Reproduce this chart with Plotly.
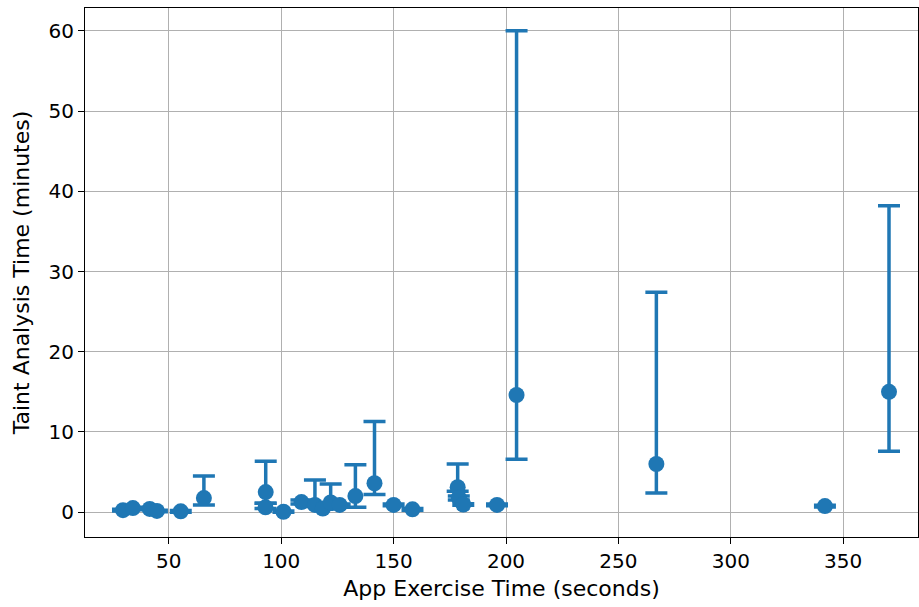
import plotly.graph_objects as go

exercise_time = [29.6, 34, 41.5, 44.7, 55.3, 65.6, 93.1, 93.0, 101, 109, 115, 118.5, 122, 126,
                 133, 141.5, 150, 158.4, 178.5, 179, 181, 196, 204.7, 266.9, 341.9, 370.4]
taint_mean = [0.25, 0.5, 0.4, 0.15, 0.1, 1.75, 2.5, 0.6, 0.05, 1.25, 0.9, 0.45, 1.2, 0.9,
              2.0, 3.6, 0.9, 0.35, 3.1, 1.8, 0.95, 0.9, 14.6, 6.0, 0.75, 15.0]
taint_max = [0.35, 0.6, 0.5, 0.25, 0.2, 4.5, 6.35, 1.1, 0.15, 1.5, 4.0, 0.6, 3.5, 1.0,
             5.9, 11.3, 1.0, 0.45, 6.0, 2.0, 1.05, 1.0, 60, 27.4, 0.85, 38.2]
taint_min = [0.15, 0.4, 0.3, 0.05, 0.0, 0.9, 1.1, 0.45, 0.0, 1.0, 0.7, 0.35, 0.9, 0.8,
             0.6, 2.2, 0.8, 0.25, 2.6, 1.5, 0.85, 0.8, 6.6, 2.4, 0.65, 7.6]

x_ticks = [50, 100, 150, 200, 250, 300, 350]
y_ticks = [0, 10, 20, 30, 40, 50, 60]

color = "#1f77b4"
fig = go.Figure(go.Scatter(
    x=exercise_time, y=taint_mean, mode="markers",
    marker=dict(color=color, size=16, line=dict(width=0)),
    error_y=dict(type="data", symmetric=False,
                 array=[h - m for h, m in zip(taint_max, taint_mean)],
                 arrayminus=[m - l for m, l in zip(taint_mean, taint_min)],
                 color=color, thickness=3.5, width=11),
))

tick_font = dict(family="DejaVu Sans", size=20, color="black")
title_font = dict(family="DejaVu Sans", size=22, color="black")
axis_common = dict(showline=True, linecolor="black", linewidth=1.2, mirror=True,
                   ticks="outside", ticklen=6, tickwidth=1.2, tickcolor="black",
                   showgrid=True, gridcolor="#b0b0b0", gridwidth=1, zeroline=False,
                   tickfont=tick_font)
fig.update_xaxes(range=[12.7, 383.3], tickvals=x_ticks,
                 title=dict(text="App Exercise Time (seconds)", font=title_font, standoff=8),
                 **axis_common)
fig.update_yaxes(range=[-3.1, 62.85], tickvals=y_ticks,
                 title=dict(text="Taint Analysis Time (minutes)", font=title_font, standoff=12),
                 **axis_common)
fig.update_layout(width=919, height=607, margin=dict(l=85, r=1, t=8, b=70, autoexpand=False),
                  plot_bgcolor="white", paper_bgcolor="white", showlegend=False,
                  font=tick_font)
fig.write_html("out.html", config={"displayModeBar": False},
               post_script="document.body.style.margin='0';document.body.style.overflow='hidden';")
